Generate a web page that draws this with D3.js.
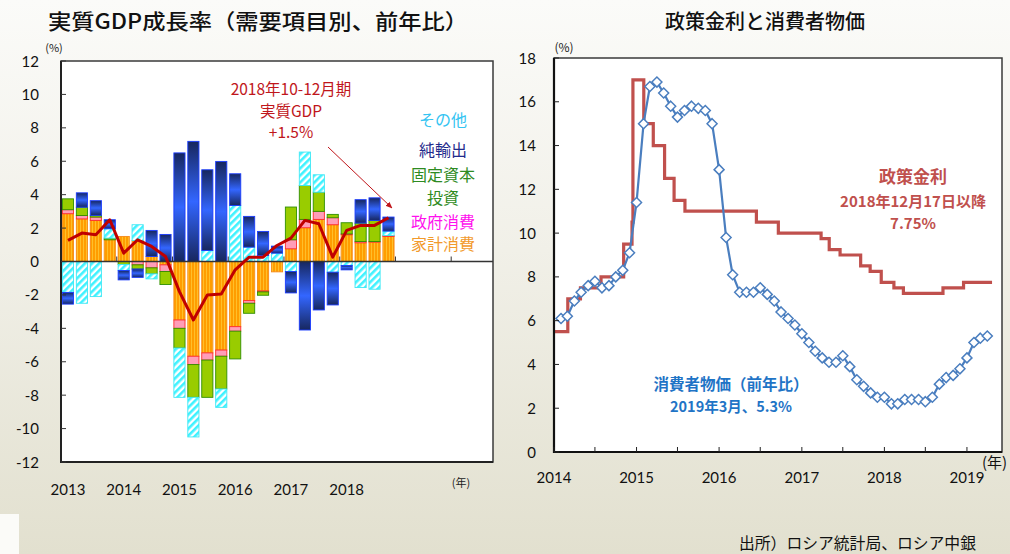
<!DOCTYPE html>
<html>
<head>
<meta charset="utf-8">
<script src="https://cdn.jsdelivr.net/npm/d3@7"></script>
<style>
  body { margin: 0; background: #fff; }
  svg { display: block; }
  text { font-family: "Noto Sans CJK JP", "Noto Sans", sans-serif; }
  .num { font-family: Lato, "Noto Sans", sans-serif; }
</style>
</head>
<body>
<svg id="chart" width="1010" height="554"></svg>
<script>
// ---- left chart: real GDP growth by demand component (y/y, % pt) ----
const quarters = ["2013Q1", "2013Q2", "2013Q3", "2013Q4", "2014Q1", "2014Q2", "2014Q3", "2014Q4",
  "2015Q1", "2015Q2", "2015Q3", "2015Q4", "2016Q1", "2016Q2", "2016Q3", "2016Q4",
  "2017Q1", "2017Q2", "2017Q3", "2017Q4", "2018Q1", "2018Q2", "2018Q3", "2018Q4"];
const yearLabels = ["2013", "2014", "2015", "2016", "2017", "2018"];
const household = [2.86, 2.55, 2.46, 1.3, 1.5, 1.26, 0.3, -0.2, -3.5, -5.67, -5.47, -5.3,
  -3.9, -2.34, -1.76, -0.62, 0.76, 2.02, 2.52, 2.2, 1.6, 1.12, 1.16, 1.5];
const government = [0.24, 0.2, 0.2, 0, 0, -0.2, -0.38, -0.4, -0.5, -0.5, -0.43, -0.37,
  -0.27, -0.16, -0.06, 0, 0.54, 0.5, 0.48, 0.42, 0.05, 0.08, 0.04, 0.06];
const investment = [0.65, 0.5, 0.1, 0.1, -0.18, -0.25, -0.36, -0.78, -1.18, -1.96, -2.23, -1.96,
  -1.66, -0.6, -0.2, 0, 1.96, 2.03, 1.15, 0.2, 0.67, 1.1, 1.26, 0];
const others = [-1.85, -2.5, -2.1, 0.56, -0.36, 0.94, -0.3, 0, -2.95, -2.37, 0.66, -1.1,
  3.35, 0.86, 0.36, 0.5, -0.6, 2.0, 1.04, -0.64, -0.24, -1.56, -1.66, 0.26];
const netExports = [-0.7, 0.86, 0.88, 0.54, -0.56, -0.5, 1.56, 1.62, 6.5, 7.19, 4.83, 5.99,
  1.9, 1.84, 1.44, 0.42, -1.28, -4.1, -2.9, -1.96, -0.26, 1.4, 1.35, 0.84];
const gdp = [1.26, 1.7, 1.6, 2.5, 0.5, 1.3, 0.9, 0.3, -1.8, -3.5, -2.0, -1.94,
  -0.5, 0.26, 0.26, 0.96, 1.4, 2.46, 2.26, 0.26, 1.86, 2.16, 2.16, 2.62];
const leftTicks = [12, 10, 8, 6, 4, 2, 0, -2, -4, -6, -8, -10, -12];

// ---- right chart: policy rate and CPI ----
const cpi2014 = [6.1, 6.2, 6.9, 7.3, 7.6, 7.8, 7.5, 7.6, 8.0, 8.3, 9.1, 11.4];
const cpi2015 = [15.0, 16.7, 16.9, 16.4, 15.8, 15.3, 15.6, 15.8, 15.7, 15.6, 15.0, 12.9];
const cpi2016 = [9.8, 8.1, 7.3, 7.3, 7.3, 7.5, 7.2, 6.9, 6.4, 6.1, 5.8, 5.4];
const cpi2017 = [5.0, 4.6, 4.3, 4.1, 4.1, 4.4, 3.9, 3.3, 3.0, 2.7, 2.5, 2.5];
const cpi2018 = [2.2, 2.2, 2.4, 2.4, 2.4, 2.3, 2.5, 3.1, 3.4, 3.5, 3.8, 4.3];
const cpi2019 = [5.0, 5.2, 5.3];
const rateDates = ["2014-01-01", "2014-03-03", "2014-04-28", "2014-07-28", "2014-11-05", "2014-12-12",
  "2014-12-16", "2015-02-02", "2015-03-16", "2015-05-05", "2015-06-16", "2015-08-03", "2016-06-14",
  "2016-09-19", "2017-03-27", "2017-05-02", "2017-06-19", "2017-09-18", "2017-10-30", "2017-12-18",
  "2018-02-12", "2018-03-26", "2018-09-17", "2018-12-17", "2019-04-22"];
const rateValues = [5.5, 7.0, 7.5, 8.0, 9.5, 10.5, 17.0, 15.0, 14.0, 12.5, 11.5, 11.0, 10.5,
  10.0, 9.75, 9.25, 9.0, 8.5, 8.25, 7.75, 7.5, 7.25, 7.5, 7.75, 7.75];
const rightTicks = [0, 2, 4, 6, 8, 10, 12, 14, 16, 18];

const svg = d3.select("#chart");
const defs = svg.append("defs");

// background
const bg = defs.append("linearGradient").attr("id", "bg").attr("x1", 0).attr("y1", 0).attr("x2", 0).attr("y2", 1);
bg.append("stop").attr("offset", 0).attr("stop-color", "#fbfbf9");
bg.append("stop").attr("offset", 0.45).attr("stop-color", "#f1f0e8");
bg.append("stop").attr("offset", 1).attr("stop-color", "#e2e0cf");
svg.append("rect").attr("width", 1010).attr("height", 554).attr("fill", "url(#bg)");
svg.append("rect").attr("x", 0).attr("y", 514).attr("width", 19).attr("height", 40).attr("fill", "#fbfbf8");

// fills
const hh = defs.append("pattern").attr("id", "hh").attr("patternUnits", "userSpaceOnUse")
  .attr("width", 3).attr("height", 6);
hh.append("rect").attr("width", 3).attr("height", 6).attr("fill", "#ff9d00");
hh.append("rect").attr("x", 2).attr("width", 1).attr("height", 6).attr("fill", "#ffbf2a");

const oth = defs.append("pattern").attr("id", "oth").attr("patternUnits", "userSpaceOnUse")
  .attr("width", 5).attr("height", 5).attr("patternTransform", "rotate(45)");
oth.append("rect").attr("width", 5).attr("height", 5).attr("fill", "#ffffff");
oth.append("rect").attr("width", 2.6).attr("height", 5).attr("fill", "#3ef2ff");

const nx = defs.append("linearGradient").attr("id", "nx").attr("x1", 0).attr("y1", 0).attr("x2", 0).attr("y2", 1);
nx.append("stop").attr("offset", 0).attr("stop-color", "#17275e");
nx.append("stop").attr("offset", 0.5).attr("stop-color", "#3366ff");
nx.append("stop").attr("offset", 1).attr("stop-color", "#17275e");

// ================= left chart =================
const L = { left: 61, right: 493, top: 61, bottom: 462 };
const x = d3.scaleLinear().domain([0, 31]).range([L.left, L.right]);
const y = d3.scaleLinear().domain([-12, 12]).range([L.bottom, L.top]);

svg.append("rect").attr("x", L.left).attr("y", L.top)
  .attr("width", L.right - L.left).attr("height", L.bottom - L.top).attr("fill", "#fff");

const rows = quarters.map((q, i) => ({
  q: q, household: household[i], government: government[i], investment: investment[i],
  others: others[i], netExports: netExports[i]
}));
const keys = ["household", "government", "investment", "others", "netExports"];
const styles = {
  household: { fill: "url(#hh)", stroke: "#f58a1a" },
  government: { fill: "#ff9db8", stroke: "#ff2a2a" },
  investment: { fill: "#99cc00", stroke: "#2f8f00" },
  others: { fill: "url(#oth)", stroke: "#3ee8f5" },
  netExports: { fill: "url(#nx)", stroke: "#1a3cff" }
};
const series = d3.stack().keys(keys).offset(d3.stackOffsetDiverging)(rows);

const gBars = svg.append("g");
series.forEach(s => {
  gBars.append("g").selectAll("rect").data(s).join("rect")
    .attr("x", (d, i) => x(i + 0.1))
    .attr("width", x(0.8) - x(0))
    .attr("y", d => y(Math.max(d[0], d[1])))
    .attr("height", d => Math.abs(y(d[0]) - y(d[1])))
    .attr("fill", styles[s.key].fill)
    .attr("stroke", styles[s.key].stroke)
    .attr("stroke-width", 0.9)
    .attr("display", d => Math.abs(d[1] - d[0]) < 0.001 ? "none" : null);
});

// zero line and year ticks
svg.append("line").attr("x1", L.left).attr("x2", L.right).attr("y1", y(0)).attr("y2", y(0))
  .attr("stroke", "#333").attr("stroke-width", 1.5);
svg.append("g").selectAll("line").data(d3.range(1, 8)).join("line")
  .attr("x1", d => x(d * 4)).attr("x2", d => x(d * 4))
  .attr("y1", y(0)).attr("y2", y(0) - 5)
  .attr("stroke", "#333").attr("stroke-width", 1);

// gdp line
svg.append("path").datum(gdp)
  .attr("fill", "none").attr("stroke", "#c00000").attr("stroke-width", 3).attr("stroke-linejoin", "round")
  .attr("d", d3.line().x((d, i) => x(i + 0.5)).y(d => y(d)));

// frame
svg.append("rect").attr("x", L.left).attr("y", L.top)
  .attr("width", L.right - L.left).attr("height", L.bottom - L.top)
  .attr("fill", "none").attr("stroke", "#3a3a3a").attr("stroke-width", 1.5);
svg.append("path").attr("d", `M${L.left},${L.top}V${L.bottom}H${L.right}`)
  .attr("fill", "none").attr("stroke", "#222").attr("stroke-width", 2);

// y ticks
svg.append("g").selectAll("line").data(leftTicks).join("line")
  .attr("x1", L.left).attr("x2", L.left + 5).attr("y1", d => y(d)).attr("y2", d => y(d))
  .attr("stroke", "#333").attr("stroke-width", 1);
svg.append("g").selectAll("text").data(leftTicks).join("text")
  .attr("class", "num").attr("x", 39).attr("y", d => y(d) + 5.5)
  .attr("text-anchor", "end").attr("font-size", 15).attr("fill", "#111").text(d => d);
svg.append("g").selectAll("text").data(yearLabels).join("text")
  .attr("class", "num").attr("x", (d, i) => x(i * 4 + 0.5)).attr("y", 495)
  .attr("text-anchor", "middle").attr("font-size", 15).attr("fill", "#111").text(d => d);
svg.append("text").attr("x", 54).attr("y", 52).attr("text-anchor", "middle")
  .attr("font-size", 11).attr("fill", "#222").text("(%)");
svg.append("text").attr("x", 461).attr("y", 487).attr("text-anchor", "middle")
  .attr("font-size", 11).attr("fill", "#222").text("(年)");

svg.append("text").attr("x", 258).attr("y", 29).attr("text-anchor", "middle")
  .attr("font-size", 21).attr("font-weight", 500).attr("fill", "#111")
  .attr("textLength", 420).attr("lengthAdjust", "spacingAndGlyphs")
  .text("実質GDP成長率（需要項目別、前年比）");

// legend labels
const legend = [
  { t: "その他", c: "#33c4f2", y: 126 },
  { t: "純輸出", c: "#1f2b8c", y: 156 },
  { t: "固定資本", c: "#2e8b22", y: 181 },
  { t: "投資", c: "#2e8b22", y: 204 },
  { t: "政府消費", c: "#ff10ee", y: 228 },
  { t: "家計消費", c: "#f29a2c", y: 250 }
];
svg.append("g").selectAll("text").data(legend).join("text")
  .attr("x", 443).attr("y", d => d.y).attr("text-anchor", "middle")
  .attr("font-size", 16).attr("fill", d => d.c).text(d => d.t);

// annotation
const ann = ["2018年10-12月期", "実質GDP", "+1.5%"];
svg.append("g").selectAll("text").data(ann).join("text")
  .attr("x", 291).attr("y", (d, i) => 95 + i * 21.5).attr("text-anchor", "middle")
  .attr("font-size", 15.5).attr("fill", "#c0161b").text(d => d);
defs.append("marker").attr("id", "arr").attr("viewBox", "0 0 10 10").attr("refX", 9).attr("refY", 5)
  .attr("markerWidth", 7).attr("markerHeight", 7).attr("orient", "auto")
  .append("path").attr("d", "M0,1L10,5L0,9Z").attr("fill", "#c0161b");
svg.append("line").attr("x1", 328).attr("y1", 147).attr("x2", 392).attr("y2", 208)
  .attr("stroke", "#c0161b").attr("stroke-width", 1).attr("marker-end", "url(#arr)");

// ================= right chart =================
const R = { left: 554, right: 1002, top: 58, bottom: 452 };
const parse = d3.timeParse("%Y-%m-%d");
const xr = d3.scaleTime().domain([new Date(2014, 0, 1), new Date(2019, 5, 5)]).range([R.left, R.right]);
const yr = d3.scaleLinear().domain([0, 18]).range([R.bottom, R.top]);

svg.append("rect").attr("x", R.left).attr("y", R.top)
  .attr("width", R.right - R.left).attr("height", R.bottom - R.top).attr("fill", "#fff")
  .attr("stroke", "#3a3a3a").attr("stroke-width", 1.5);

// cpi points at month end
const cpi = [].concat(cpi2014, cpi2015, cpi2016, cpi2017, cpi2018, cpi2019)
  .map((v, i) => ({ date: d3.timeMonth.offset(new Date(2014, 0, 1), i + 1), v: v }));
const rate = rateDates.map((d, i) => ({ date: parse(d), v: rateValues[i] }));

svg.append("path").datum(rate)
  .attr("fill", "none").attr("stroke", "#c0504d").attr("stroke-width", 3.2)
  .attr("d", d3.line().curve(d3.curveStepAfter).x(d => xr(d.date)).y(d => yr(d.v)));

svg.append("path").datum(cpi)
  .attr("fill", "none").attr("stroke", "#4a7ebf").attr("stroke-width", 2.2)
  .attr("d", d3.line().x(d => xr(d.date)).y(d => yr(d.v)));
svg.append("g").selectAll("path").data(cpi).join("path")
  .attr("transform", d => `translate(${xr(d.date)},${yr(d.v)})`)
  .attr("d", "M0,-5L5,0L0,5L-5,0Z")
  .attr("fill", "#fff").attr("stroke", "#4a7ebf").attr("stroke-width", 1.5);

svg.append("path").attr("d", `M${R.left},${R.top}V${R.bottom}H${R.right}`)
  .attr("fill", "none").attr("stroke", "#111").attr("stroke-width", 2.2);

svg.append("g").selectAll("line").data(rightTicks).join("line")
  .attr("x1", R.left).attr("x2", R.left + 5).attr("y1", d => yr(d)).attr("y2", d => yr(d))
  .attr("stroke", "#222").attr("stroke-width", 1);
svg.append("g").selectAll("text").data(rightTicks).join("text")
  .attr("class", "num").attr("x", 536).attr("y", d => yr(d) + 5.5)
  .attr("text-anchor", "end").attr("font-size", 15).attr("fill", "#111").text(d => d);

const halfYears = xr.ticks(d3.timeMonth.every(6));
svg.append("g").selectAll("line").data(halfYears).join("line")
  .attr("x1", d => xr(d)).attr("x2", d => xr(d)).attr("y1", R.bottom).attr("y2", R.bottom - 5)
  .attr("stroke", "#222").attr("stroke-width", 1);
svg.append("g").selectAll("text").data(xr.ticks(d3.timeYear.every(1))).join("text")
  .attr("class", "num").attr("x", d => xr(d)).attr("y", 483)
  .attr("text-anchor", "middle").attr("font-size", 15).attr("fill", "#111")
  .text(d3.timeFormat("%Y"));
svg.append("text").attr("x", 564).attr("y", 52).attr("text-anchor", "middle")
  .attr("font-size", 12).attr("fill", "#222").text("(%)");
svg.append("text").attr("x", 982).attr("y", 468)
  .attr("font-size", 15).attr("fill", "#111").text("(年)");

svg.append("text").attr("x", 765).attr("y", 29).attr("text-anchor", "middle")
  .attr("font-size", 20).attr("font-weight", 500).attr("fill", "#111").text("政策金利と消費者物価");

const rateNote = [
  { t: "政策金利", s: 17, y: 183 },
  { t: "2018年12月17日以降", s: 15, y: 207 },
  { t: "7.75%", s: 15, y: 229 }
];
svg.append("g").selectAll("text").data(rateNote).join("text")
  .attr("x", 913).attr("y", d => d.y).attr("text-anchor", "middle")
  .attr("font-size", d => d.s).attr("font-weight", "bold").attr("fill", "#c0504d").text(d => d.t);
const cpiNote = [
  { t: "消費者物価（前年比）", s: 15.5, y: 390 },
  { t: "2019年3月、5.3%", s: 14.5, y: 412 }
];
svg.append("g").selectAll("text").data(cpiNote).join("text")
  .attr("x", 731).attr("y", d => d.y).attr("text-anchor", "middle")
  .attr("font-size", d => d.s).attr("font-weight", "bold").attr("fill", "#1f74c6").text(d => d.t);

svg.append("text").attr("x", 739).attr("y", 549)
  .attr("font-size", 15.8).attr("fill", "#111").text("出所）ロシア統計局、ロシア中銀");
</script>
</body>
</html>
